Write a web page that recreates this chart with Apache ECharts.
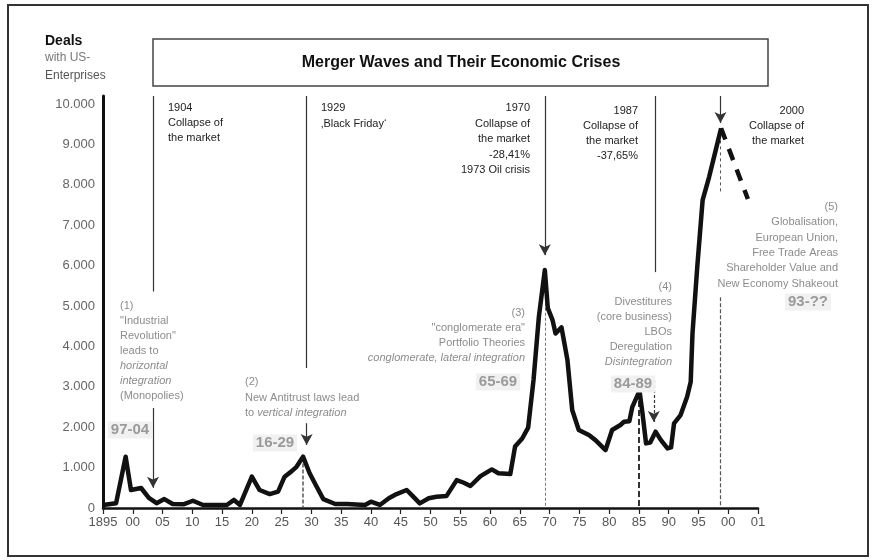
<!DOCTYPE html>
<html>
<head>
<meta charset="utf-8">
<script src="https://cdn.jsdelivr.net/npm/echarts@6/dist/echarts.min.js"></script>
<style>
html, body { margin: 0; padding: 0; background: #fff; }
#chart { width: 877px; height: 560px; }
</style>
</head>
<body>
<div id="chart"></div>
<script>
// Deals with US enterprises per year
const years = [1895, 1897.2, 1898.8, 1899.7, 1901.4, 1902.7, 1904, 1905.3, 1906.7, 1908.5,
  1910.1, 1911.8, 1915.8, 1917, 1918, 1920, 1921.3, 1923, 1924.4, 1925.5,
  1926.6, 1927.5, 1928.6, 1929.7, 1930.8, 1932, 1934, 1936, 1939, 1940,
  1941.5, 1943, 1944.3, 1946, 1947.1, 1948.2, 1949.7, 1951, 1952.7, 1954.4,
  1955.6, 1956.7, 1958.4, 1960.3, 1961.4, 1963.4, 1964.2, 1965.4, 1966.4, 1967.3,
  1968.2, 1969.2, 1969.7, 1970.5, 1971, 1972, 1973, 1973.8, 1974.9, 1976.6,
  1977.7, 1979.4, 1980.5, 1981.9, 1982.5, 1983.4, 1983.9, 1985.1, 1985.6, 1986.2,
  1986.9, 1987.8, 1988.7, 1989.8, 1990.4, 1990.9, 1992, 1993.1, 1993.7, 1994,
  1994.8, 1995.7, 1996.8, 1997.9, 1998.8];
const deals = [75, 120, 1270, 445, 495, 250, 120, 220, 100, 90,
  180, 75, 75, 200, 75, 775, 445, 345, 405, 775,
  900, 1020, 1270, 860, 550, 220, 100, 100, 75, 155,
  75, 240, 345, 445, 280, 115, 240, 280, 300, 690,
  625, 545, 790, 955, 860, 840, 1520, 1720, 1990, 3170,
  4735, 5890, 4950, 4650, 4320, 4470, 3660, 2425, 1930, 1805,
  1680, 1435, 1930, 2055, 2135, 2150, 2505, 2900, 2345, 1600,
  1620, 1890, 1680, 1475, 1500, 2095, 2300, 2755, 3125, 4325,
  5970, 7620, 8200, 8860, 9400];

// Dashed outlook after the 2000 peak
const outlookYears = [1998.8, 2003.3];
const outlookDeals = [9400, 7650];

// Tick labels of the time axis (1895 ... 2000, last tick is labelled "01")
const xTickLabels = ['1895', '00', '05', '10', '15', '20', '25', '30', '35', '40', '45',
  '50', '55', '60', '65', '70', '75', '80', '85', '90', '95', '00', '01'];

const FONT = '"Liberation Sans", Arial, sans-serif';

// Hilfsfunktion: mehrzeiliger Text als einzelne graphic-Elemente
function textBlock(x, y, lh, lines, align, color, size) {
  return lines.map((l, i) => {
    const italic = typeof l === 'object' && l.i;
    const txt = typeof l === 'object' ? (l.i || l.rich) : l;
    const style = {
      text: txt, fill: color, align: align, verticalAlign: 'middle',
      fontSize: size || 11, fontFamily: FONT, fontStyle: italic ? 'italic' : 'normal'
    };
    if (typeof l === 'object' && l.rich) {
      style.rich = {
        n: { fontSize: size || 11, fontFamily: FONT, fill: color },
        i: { fontSize: size || 11, fontFamily: FONT, fill: color, fontStyle: 'italic' }
      };
    }
    return { type: 'text', x: x, y: y + i * lh, z: 10, style: style };
  });
}

function badge(x, y, txt) {
  return {
    type: 'text', x: x, y: y, z: 10,
    style: {
      text: txt, align: 'center', verticalAlign: 'middle', fill: '#9a9a9a',
      fontSize: 15, fontWeight: 'bold', fontFamily: FONT,
      backgroundColor: '#f1f1f1', padding: [1, 3]
    }
  };
}

const thin = { color: '#333', width: 1.2, type: 'solid' };
const arrowEnd = { symbol: 'arrow', symbolSize: [9, 11] };
function vline(x, y1, y2, style, arrow) {
  return [
    { coord: [x, y1], symbol: 'none', lineStyle: style },
    Object.assign({ coord: [x, y2] }, arrow ? arrowEnd : { symbol: 'none' })
  ];
}

const chart = echarts.init(document.getElementById('chart'));

const graphics = [
  { type: 'rect', shape: { x: 8, y: 5, width: 860, height: 551 }, style: { fill: 'none', stroke: '#333', lineWidth: 2 } },
  { type: 'rect', shape: { x: 153, y: 39, width: 615, height: 47 }, style: { fill: '#fff', stroke: '#444', lineWidth: 1.5 } },
  { type: 'text', x: 461, y: 63, style: { text: 'Merger Waves and Their Economic Crises', align: 'center', verticalAlign: 'middle', fontSize: 16, fontWeight: 'bold', fontFamily: FONT, fill: '#111' } },
  { type: 'text', x: 45, y: 41, style: { text: 'Deals', verticalAlign: 'middle', fontSize: 14, fontWeight: 'bold', fontFamily: FONT, fill: '#111' } },
  { type: 'text', x: 45, y: 58, style: { text: 'with US-', verticalAlign: 'middle', fontSize: 12, fontFamily: FONT, fill: '#777' } },
  { type: 'text', x: 45, y: 76, style: { text: 'Enterprises', verticalAlign: 'middle', fontSize: 12, fontFamily: FONT, fill: '#555' } }
].concat(
  textBlock(168, 108, 15, ['1904', 'Collapse of', 'the market'], 'left', '#222'),
  textBlock(321, 108, 16, ['1929', '\u201aBlack Friday\u2018'], 'left', '#222'),
  textBlock(530, 108, 15.5, ['1970', 'Collapse of', 'the market', '-28,41%', '1973 Oil crisis'], 'right', '#222'),
  textBlock(638, 111, 15, ['1987', 'Collapse of', 'the market', '-37,65%'], 'right', '#222'),
  textBlock(804, 111, 15, ['2000', 'Collapse of', 'the market'], 'right', '#222'),
  textBlock(120, 306, 15, ['(1)', '"Industrial', 'Revolution"', 'leads to', { i: 'horizontal' }, { i: 'integration' }, '(Monopolies)'], 'left', '#8c8c8c'),
  textBlock(245, 382, 15.5, ['(2)', 'New Antitrust laws lead', { rich: '{n|to }{i|vertical integration}' }], 'left', '#8c8c8c'),
  textBlock(525, 313, 15, ['(3)', '"conglomerate era"', 'Portfolio Theories', { i: 'conglomerate, lateral integration' }], 'right', '#8c8c8c'),
  textBlock(672, 287, 15, ['(4)', 'Divestitures', '(core business)', 'LBOs', 'Deregulation', { i: 'Disintegration' }], 'right', '#8c8c8c'),
  textBlock(838, 207, 15.3, ['(5)', 'Globalisation,', 'European Union,', 'Free Trade Areas', 'Shareholder Value and', 'New Economy Shakeout'], 'right', '#8c8c8c'),
  [badge(130, 430, '97-04'), badge(275, 443, '16-29'), badge(498, 382, '65-69'), badge(633, 384, '84-89'), badge(808, 302, '93-??')]
);

chart.setOption({
  animation: false,
  grid: { left: 103, right: 119, top: 96, bottom: 52 },
  xAxis: {
    type: 'value', min: 1895, max: 2005, interval: 5,
    axisLine: { lineStyle: { color: '#111', width: 2.5 } },
    axisTick: { length: 6, lineStyle: { color: '#222', width: 1.2 } },
    axisLabel: {
      margin: 8, color: '#555', fontSize: 13, fontFamily: FONT,
      formatter: v => xTickLabels[Math.round((v - 1895) / 5)] || ''
    },
    splitLine: { show: false }
  },
  yAxis: {
    type: 'value', min: 0, max: 10200, interval: 1000,
    axisLine: { show: true, lineStyle: { color: '#111', width: 3 } },
    axisTick: { show: false },
    axisLabel: {
      margin: 8, color: '#666', fontSize: 13, fontFamily: FONT,
      formatter: v => (v % 1000 === 0 ? v.toLocaleString('de-DE') : '')
    },
    splitLine: { show: false }
  },
  graphic: graphics,
  series: [
    {
      type: 'line', name: 'Deals', clip: false,
      data: years.map((y, i) => [y, deals[i]]),
      showSymbol: false, z: 5,
      lineStyle: { color: '#111', width: 4.5, join: 'round' },
      markLine: {
        silent: true, symbol: ['none', 'none'], label: { show: false },
        data: [
          vline(1903.4, 10200, 5360, thin),
          vline(1903.4, 2475, 500, thin, true),
          vline(1929.2, 10200, 3465, thin),
          vline(1929.2, 2100, 1560, thin, true),
          vline(1928.6, 1250, 0, { color: '#555', width: 1.5, type: [4, 2] }),
          vline(1969.2, 10200, 6260, thin, true),
          vline(1969.2, 5700, 0, { color: '#777', width: 1, type: [3, 2] }),
          vline(1987.7, 10200, 5840, thin),
          vline(1987.5, 3170, 2130, { color: '#333', width: 1.2, type: [3, 2] }, true),
          vline(1984.9, 2870, 0, { color: '#333', width: 2, type: [6, 3] }),
          vline(1998.7, 10200, 9530, thin, true),
          vline(1998.7, 9250, 7800, { color: '#555', width: 1, type: [3, 3] }),
          vline(1998.7, 5220, 0, { color: '#555', width: 1.2, type: [4, 2] })
        ]
      }
    },
    {
      type: 'line', name: 'Outlook',
      data: outlookYears.map((y, i) => [y, outlookDeals[i]]),
      showSymbol: false, z: 5,
      lineStyle: { color: '#111', width: 4.5, type: [12, 10] }
    }
  ]
});
</script>
</body>
</html>
